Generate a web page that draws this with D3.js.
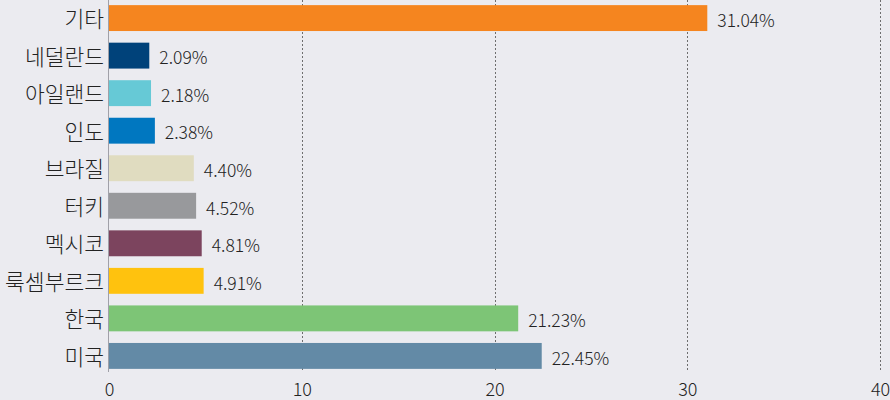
<!DOCTYPE html>
<html><head><meta charset="utf-8">
<script src="https://cdn.jsdelivr.net/npm/d3@7"></script>
<style>
html,body{margin:0;padding:0;background:#ebebf0;}
svg{display:block;}
</style></head>
<body>
<svg id="chart" width="890" height="400"></svg>
<script>
const categories = ["기타","네덜란드","아일랜드","인도","브라질","터키","멕시코","룩셈부르크","한국","미국"];
const values = [31.04, 2.09, 2.18, 2.38, 4.40, 4.52, 4.81, 4.91, 21.23, 22.45];
const colors = ["#f5851f","#00427a","#66c9d6","#0077c0","#e0dcc0","#98999c","#7c445e","#ffc20e","#7dc576","#638aa6"];
const xTicks = [0,10,20,30,40];

const svg = d3.select("#chart");
svg.append("rect").attr("width",890).attr("height",400).attr("fill","#ebebf0");

const x = d3.scaleLinear().domain([0,40]).range([109,880]);
const y = d3.scaleBand().domain(categories).range([-0.5,374.5]).paddingInner(0.31).paddingOuter(0.15);
const plotBottom = 372;

// gridlines
svg.append("g").selectAll("line").data(xTicks.filter(d=>d>0)).join("line")
  .attr("x1",d=>Math.round(x(d))+0.5).attr("x2",d=>Math.round(x(d))+0.5)
  .attr("y1",0).attr("y2",plotBottom)
  .attr("stroke","#6e6e6e").attr("stroke-width",1).attr("stroke-dasharray","2,2");

// bars
svg.append("g").selectAll("rect").data(categories).join("rect")
  .attr("x",x(0)).attr("y",d=>y(d))
  .attr("width",(d,i)=>x(values[i])-x(0))
  .attr("height",y.bandwidth())
  .attr("fill",(d,i)=>colors[i]);

// axis line at 0
svg.append("line").attr("x1",Math.round(x(0))-0.5).attr("x2",Math.round(x(0))-0.5)
  .attr("y1",0).attr("y2",plotBottom).attr("stroke","#a0a0a8").attr("stroke-width",1);

// value labels
svg.append("g").selectAll("text").data(categories).join("text")
  .attr("x",(d,i)=>x(values[i])+10)
  .attr("y",d=>y(d)+y.bandwidth()/2+4)
  .attr("dominant-baseline","middle")
  .attr("font-family","'Noto Sans CJK KR', sans-serif").attr("font-weight",300)
  .attr("font-size",17.5).attr("fill","#222")
  .text((d,i)=>values[i].toFixed(2)+"%");

// category labels
const yAxis = d3.axisLeft(y).tickSize(0).tickPadding(3);
const gy = svg.append("g").attr("transform",`translate(${x(0)-2},0)`).call(yAxis);
gy.select(".domain").remove();
gy.selectAll("text").attr("font-family","'Noto Sans CJK KR', sans-serif")
  .attr("font-size",21.5).attr("font-weight",300).attr("fill","#222").attr("dy","0.42em");

// x axis
const xAxis = d3.axisBottom(x).tickValues(xTicks).tickSize(0).tickPadding(11);
const gx = svg.append("g").attr("transform",`translate(0,${plotBottom})`).call(xAxis);
gx.select(".domain").remove();
gx.selectAll("text").attr("font-family","'Noto Sans CJK KR', sans-serif").attr("font-weight",300)
  .attr("font-size",18).attr("fill","#222");
</script>
</body></html>
